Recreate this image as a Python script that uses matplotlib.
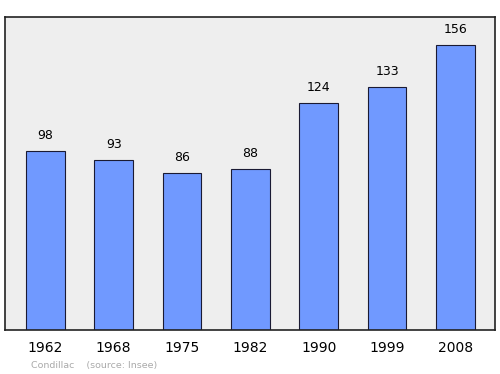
import matplotlib
matplotlib.use("Agg")
import matplotlib.pyplot as plt

# données de population
years = ["1962", "1968", "1975", "1982", "1990", "1999", "2008"]
population = [98, 93, 86, 88, 124, 133, 156]

fig = plt.figure(figsize=(5, 3.74), dpi=100)
ax = fig.add_axes([0.01, 0.1176, 0.98, 0.837])
ax.set_facecolor("#eeeeee")

x = range(len(years))
ax.bar(x, population, width=0.57, color="#7099ff", edgecolor="#1a1a33", linewidth=0.8)
for i, v in zip(x, population):
    ax.text(i, v + 5, str(v), ha="center", va="bottom", fontsize=9)

ax.set_xlim(-0.59, 6.58)
ax.set_ylim(0, 171.3)
ax.set_yticks([])
ax.set_xticks(list(x))
ax.set_xticklabels(years, fontsize=10)
ax.tick_params(axis="x", length=0, pad=8)
for s in ax.spines.values():
    s.set_linewidth(1.2)
    s.set_color("#222222")

fig.text(0.062, 0.016, "Condillac    (source: Insee)", fontsize=6.8, color="#aaaaaa")

fig.savefig("out.png", dpi=100)
